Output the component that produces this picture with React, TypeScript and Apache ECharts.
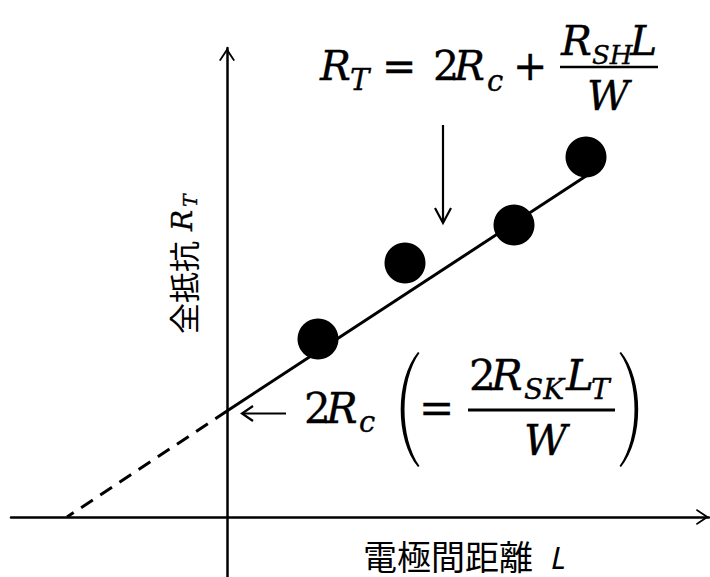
import React, { useEffect, useRef } from 'react';
import * as echarts from 'echarts';

// Measured points: electrode spacing L vs. total resistance R_T
const pointL = [9.1, 17.8, 28.7, 35.9];
const pointR = [17.8, 25.4, 29.2, 36.0];

// Least-squares line through the points (solid part)
const fitL = [0, 35.9];
const fitR = [10.6, 34.1];

// Extrapolation of the line back to R_T = 0 (dashed part)
const extL = [0, -16];
const extR = [10.6, 0];

// Axis extents
const rangeL = [-21.6, 48.2];
const rangeR = [-6, 46.9];

const xTitle = '電極間距離';
const xSymbol = 'L';
const yTitle = '全抵抗';

const MATH = '"DejaVu Serif", "Liberation Serif", serif';
const CJK = '"Noto Sans CJK JP", "Noto Sans", sans-serif';

// open chevron used as the arrow tip on both axes
const ARROW = 'path://M8 0L16 12.2L14.4 13L8 3.4L1.6 13L0 12.2Z';

// thin stretched parenthesis (left one; mirrored for the right)
const PAREN_D = 'M19 0C-4 28 -4 87 19 115L20.5 114C0.5 86 0.5 29 20.5 1Z';
echarts.graphic.registerShape('paren', echarts.graphic.extendPath(PAREN_D, {}));

// a piece of a formula placed by its left edge and its baseline
function mt(text: string, x: number, base: number, size: number, italic = true) {
  return {
    type: 'text',
    x,
    y: base - 0.346 * size,
    silent: true,
    style: {
      text,
      fontFamily: MATH,
      fontStyle: italic ? 'italic' : 'normal',
      fontSize: size,
      fill: '#000',
      stroke: '#000',
      lineWidth: 0.35,
      align: 'left',
      verticalAlign: 'middle',
    },
  };
}

function seg(x1: number, y1: number, x2: number, y2: number, w = 2.2) {
  return {
    type: 'line',
    silent: true,
    shape: { x1, y1, x2, y2 },
    style: { stroke: '#000', lineWidth: w },
  };
}

function chevron(points: number[][], w = 2.2) {
  return {
    type: 'polyline',
    silent: true,
    shape: { points },
    style: { stroke: '#000', lineWidth: w, fill: null },
  };
}

function buildGraphics() {
  const S = 41;
  const s = 29;
  const top = [
    mt('R', 320, 80, S),
    mt('T', 350, 90, s),
    mt('=', 382, 80, S, false),
    mt('2', 433, 80, S, false),
    mt('R', 454, 80, S),
    mt('c', 487, 91, s),
    mt('+', 513, 80, S, false),
    seg(560, 67, 658, 67, 2.6),
    mt('R', 561, 55, S),
    mt('SH', 592, 64, 26),
    mt('L', 630, 55, S),
    mt('W', 587, 110, S),
  ];

  const arrowDown = [
    seg(443, 125, 443, 222),
    chevron([[435, 208], [443, 223], [451, 208]]),
  ];

  const L2 = 42;
  const l2 = 28;
  const left = [
    seg(243, 413.5, 286, 413.5),
    chevron([[253, 406], [242, 413.5], [253, 421]]),
    mt('2', 304, 423, L2, false),
    mt('R', 326, 423, L2),
    mt('c', 359, 432, 29),
    { type: 'paren', x: 399, y: 352, silent: true, style: { fill: '#000' } },
    mt('=', 419, 423, L2, false),
    seg(468, 410, 615, 410, 2.8),
    mt('2', 469, 390, L2, false),
    mt('R', 491, 390, L2),
    mt('SK', 524, 399, l2),
    mt('L', 566, 390, L2),
    mt('T', 591, 399, l2),
    mt('W', 524, 455, L2),
    { type: 'paren', x: 640, y: 352, scaleX: -1, silent: true, style: { fill: '#000' } },
  ];

  const xLabel = [
    {
      type: 'text',
      x: 363,
      y: 555,
      silent: true,
      style: { text: xTitle, fontFamily: CJK, fontSize: 34, fill: '#000', verticalAlign: 'middle' },
    },
    {
      type: 'text',
      x: 551,
      y: 557,
      silent: true,
      style: {
        text: xSymbol,
        fontFamily: '"Noto Sans", sans-serif',
        fontStyle: 'italic',
        fontSize: 31,
        fill: '#000',
        verticalAlign: 'middle',
      },
    },
  ];

  // vertical title, reading bottom to top
  const yLabel = {
    type: 'group',
    x: 182,
    y: 334,
    rotation: Math.PI / 2,
    silent: true,
    children: [
      {
        type: 'text',
        x: 0,
        y: 0,
        style: { text: yTitle, fontFamily: CJK, fontSize: 31, fill: '#000', verticalAlign: 'middle' },
      },
      mt('R', 103, 10, 28),
      mt('T', 127, 15, 19),
    ],
  };

  return [...top, ...arrowDown, ...left, ...xLabel, yLabel];
}

export default function App() {
  const ref = useRef<HTMLDivElement>(null);

  useEffect(() => {
    if (!ref.current) return;
    const chart = echarts.init(ref.current, null, { renderer: 'svg' });

    const axisCommon = {
      type: 'value' as const,
      axisLine: {
        show: true,
        onZero: true,
        symbol: ['none', ARROW],
        symbolSize: [16, 13],
        symbolOffset: [0, -6.5],
        lineStyle: { color: '#000', width: 2.5 },
      },
      axisTick: { show: false },
      axisLabel: { show: false },
      splitLine: { show: false },
    };

    chart.setOption({
      animation: false,
      backgroundColor: '#fff',
      grid: { left: 11, right: 1, top: 48, bottom: 0 },
      xAxis: { ...axisCommon, min: rangeL[0], max: rangeL[1] },
      yAxis: { ...axisCommon, min: rangeR[0], max: rangeR[1] },
      series: [
        {
          type: 'line',
          data: extL.map((l, i) => [l, extR[i]]),
          symbol: 'none',
          silent: true,
          lineStyle: { color: '#000', width: 3, type: [14, 9] },
        },
        {
          type: 'line',
          data: fitL.map((l, i) => [l, fitR[i]]),
          symbol: 'none',
          silent: true,
          lineStyle: { color: '#000', width: 3 },
        },
        {
          type: 'scatter',
          data: pointL.map((l, i) => [l, pointR[i]]),
          symbol: 'circle',
          symbolSize: 41,
          silent: true,
          z: 4,
          itemStyle: { color: '#000', opacity: 1 },
        },
      ],
      graphic: buildGraphics(),
    });

    return () => chart.dispose();
  }, []);

  return (
    <div
      ref={ref}
      style={{ position: 'absolute', left: 0, top: 0, width: 710, height: 577, background: '#fff' }}
    />
  );
}
